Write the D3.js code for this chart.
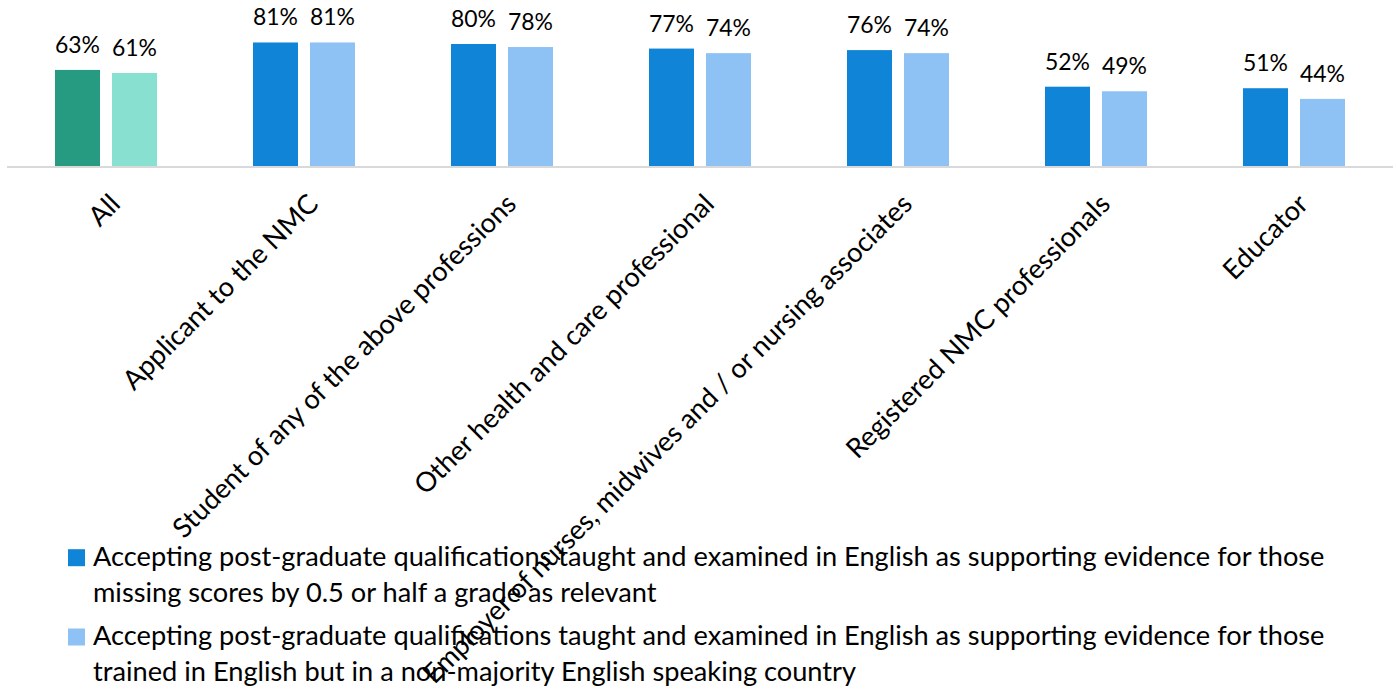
<!DOCTYPE html>
<html>
<head>
<meta charset="utf-8">
<script src="https://cdn.jsdelivr.net/npm/d3@7"></script>
<style>
  body { margin: 0; background: #fff; }
  svg text { font-family: Lato, "Open Sans", sans-serif; fill: #000; }
</style>
</head>
<body>
<div id="chart"></div>
<script>
var categories = ["All", "Applicant to the NMC", "Student of any of the above professions",
  "Other health and care professional", "Employer of nurses, midwives and / or nursing associates",
  "Registered NMC professionals", "Educator"];
var missingScores = [63, 81, 80, 77, 76, 52, 51];
var nonMajority = [61, 81, 78, 74, 74, 49, 44];
var legendLines = [
  ["Accepting post-graduate qualifications taught and examined in English as supporting evidence for those",
   "missing scores by 0.5 or half a grade as relevant"],
  ["Accepting post-graduate qualifications taught and examined in English as supporting evidence for those",
   "trained in English but in a non-majority English speaking country"]
];

var width = 1396, height = 690;
var darkColors = ["#269b81", "#1084d7"],
    lightColors = ["#87e0d0", "#8ec1f4"];

var svg = d3.select("#chart")
    .append("svg")
    .attr("width", width)
    .attr("height", height);

// font size that makes a string as wide as it is in the original (Calibri)
function fitSize(str, target) {
  var probe = svg.append("text").style("font-size", "100px").text(str);
  var w = probe.node().getComputedTextLength();
  probe.remove();
  return 100 * target / w;
}
var legendFs = fitSize(legendLines[0][0], 1232),
    valueFs = fitSize("63%", 45),
    catFs = fitSize(categories[4], 678);

var x = d3.scaleBand()
    .domain(categories)
    .range([7, 1393]);

var y = d3.scaleLinear()
    .domain([0, 100])
    .range([166, 13.5]);

var barW = 45, gap = 12;

var groups = svg.append("g")
  .selectAll("g")
    .data(categories)
    .enter().append("g")
    .attr("transform", function(d) { return "translate(" + (x(d) + x.bandwidth() / 2) + ",0)"; });

// series 1 (dark)
groups.append("rect")
    .attr("x", -barW - gap / 2)
    .attr("width", barW)
    .attr("y", function(d, i) { return y(missingScores[i]); })
    .attr("height", function(d, i) { return y(0) - y(missingScores[i]); })
    .attr("fill", function(d, i) { return i == 0 ? darkColors[0] : darkColors[1]; });

// series 2 (light)
groups.append("rect")
    .attr("x", gap / 2)
    .attr("width", barW)
    .attr("y", function(d, i) { return y(nonMajority[i]); })
    .attr("height", function(d, i) { return y(0) - y(nonMajority[i]); })
    .attr("fill", function(d, i) { return i == 0 ? lightColors[0] : lightColors[1]; });

groups.append("text")
    .attr("x", -barW / 2 - gap / 2)
    .attr("y", function(d, i) { return y(missingScores[i]) - 17; })
    .attr("text-anchor", "middle")
    .style("font-size", valueFs + "px")
    .text(function(d, i) { return missingScores[i] + "%"; });

groups.append("text")
    .attr("x", barW / 2 + gap / 2)
    .attr("y", function(d, i) { return y(nonMajority[i]) - 17; })
    .attr("text-anchor", "middle")
    .style("font-size", valueFs + "px")
    .text(function(d, i) { return nonMajority[i] + "%"; });

// axis line
svg.append("line")
    .attr("x1", x.range()[0])
    .attr("x2", x.range()[1])
    .attr("y1", y(0) + 1)
    .attr("y2", y(0) + 1)
    .attr("stroke", "#d9d9d9")
    .attr("stroke-width", 2);

// rotated category labels
groups.append("text")
    .attr("transform", "translate(9,199) rotate(-45)")
    .attr("text-anchor", "end")
    .attr("dy", "0.35em")
    .style("font-size", catFs + "px")
    .text(function(d) { return d; });

// legend
var legend = svg.append("g")
  .selectAll("g")
    .data(legendLines)
    .enter().append("g")
    .attr("transform", function(d, i) { return "translate(68," + (565.7 + i * 79.3) + ")"; });

legend.append("rect")
    .attr("x", 0)
    .attr("y", -16.5)
    .attr("width", 17)
    .attr("height", 17)
    .attr("fill", function(d, i) { return i == 0 ? darkColors[1] : lightColors[1]; });

legend.append("text")
    .style("font-size", legendFs + "px")
  .selectAll("tspan")
    .data(function(d) { return d; })
    .enter().append("tspan")
    .attr("x", 25)
    .attr("y", function(d, i) { return i * 36; })
    .text(function(d) { return d; });
</script>
</body>
</html>
